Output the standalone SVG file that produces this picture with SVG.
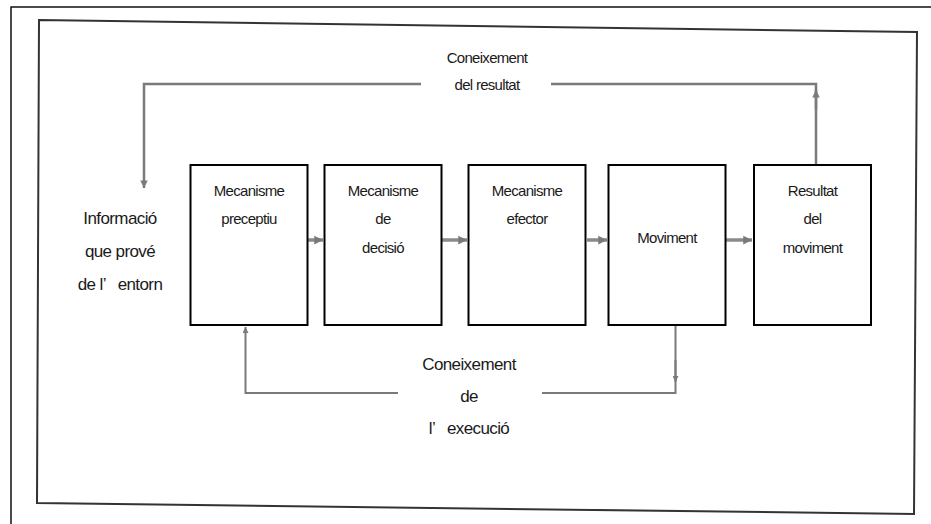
<svg xmlns="http://www.w3.org/2000/svg" width="931" height="524" viewBox="0 0 931 524">
<defs>
<style>
.t{font-family:"Liberation Sans",Arial,sans-serif;fill:#1a1a1a;text-anchor:middle;dominant-baseline:central}
.bx{font-size:15px;letter-spacing:-0.7px}
.lb{font-size:17px;letter-spacing:-0.6px}
.tp{font-size:15px;letter-spacing:-0.7px}
.box{fill:#fff;stroke:#000;stroke-width:2}
.flow{stroke:#8a8a8a;stroke-width:3.5;fill:none}
.fb{stroke:#7a7a7a;stroke-width:2.5;fill:none}
.fb2{stroke:#7a7a7a;stroke-width:2;fill:none}
</style>
<marker id="ah" viewBox="0 0 10 10" refX="10" refY="5" markerWidth="2.5" markerHeight="3" orient="auto" markerUnits="strokeWidth">
<path d="M0,0 L10,5 L0,10 z" fill="#7a7a7a"/>
</marker>
<marker id="ah2" viewBox="0 0 10 10" refX="10" refY="5" markerWidth="4" markerHeight="3" orient="auto" markerUnits="strokeWidth">
<path d="M0,0 L10,5 L0,10 z" fill="#7a7a7a"/>
</marker>
</defs>
<rect width="931" height="524" fill="#fff"/>
<g id="frame">
<path d="M11,524 V7 H931" fill="none" stroke="#111" stroke-width="1.5"/>
<path d="M39,20 L917,32 L914,514 L37,503 Z" fill="none" stroke="#333" stroke-width="2"/>
</g>
<g id="connectors">
<path class="flow" d="M308,240 H323" marker-end="url(#ah)"/>
<path class="flow" d="M442,240 H467" marker-end="url(#ah)"/>
<path class="flow" d="M587,240 H607" marker-end="url(#ah)"/>
<path class="flow" d="M726,240 H752" marker-end="url(#ah)"/>
<path class="fb" d="M421,84 H144 V188" marker-end="url(#ah2)"/>
<path class="fb" d="M816,164 V84 H551"/>
<path class="fb" d="M816,110 V90" marker-end="url(#ah2)"/>
<path class="fb2" d="M398,393 H245.5 V327" marker-end="url(#ah2)"/>
<path class="fb2" d="M675.5,326 V393 H542"/>
<path class="fb2" d="M675.5,360 V382" marker-end="url(#ah2)"/>
</g>
<g id="info">
<text class="t lb" x="120" y="218">Informació</text>
<text class="t lb" x="120" y="251">que prové</text>
<text class="t lb" x="120" y="284" xml:space="preserve">de l’   entorn</text>
</g>
<g id="top-label">
<text class="t tp" x="487" y="57">Coneixement</text>
<text class="t tp" x="487" y="84">del resultat</text>
</g>
<g id="bottom-label">
<text class="t lb" x="469" y="364">Coneixement</text>
<text class="t lb" x="469" y="396">de</text>
<text class="t lb" x="469" y="428" xml:space="preserve">l’   execució</text>
</g>
<g id="n1">
<rect class="box" x="190.5" y="165" width="117" height="160"/>
<text class="t bx" x="249" y="190">Mecanisme</text>
<text class="t bx" x="249" y="218">preceptiu</text>
</g>
<g id="n2">
<rect class="box" x="324.5" y="165" width="117" height="160"/>
<text class="t bx" x="383" y="190">Mecanisme</text>
<text class="t bx" x="383" y="218">de</text>
<text class="t bx" x="383" y="247">decisió</text>
</g>
<g id="n3">
<rect class="box" x="468.5" y="165" width="117" height="160"/>
<text class="t bx" x="527" y="190">Mecanisme</text>
<text class="t bx" x="527" y="218">efector</text>
</g>
<g id="n4">
<rect class="box" x="608.5" y="165" width="117" height="160"/>
<text class="t bx" x="667" y="237">Moviment</text>
</g>
<g id="n5">
<rect class="box" x="754" y="165" width="117" height="160"/>
<text class="t bx" x="812.5" y="190">Resultat</text>
<text class="t bx" x="812.5" y="218">del</text>
<text class="t bx" x="812.5" y="247">moviment</text>
</g>
</svg>
